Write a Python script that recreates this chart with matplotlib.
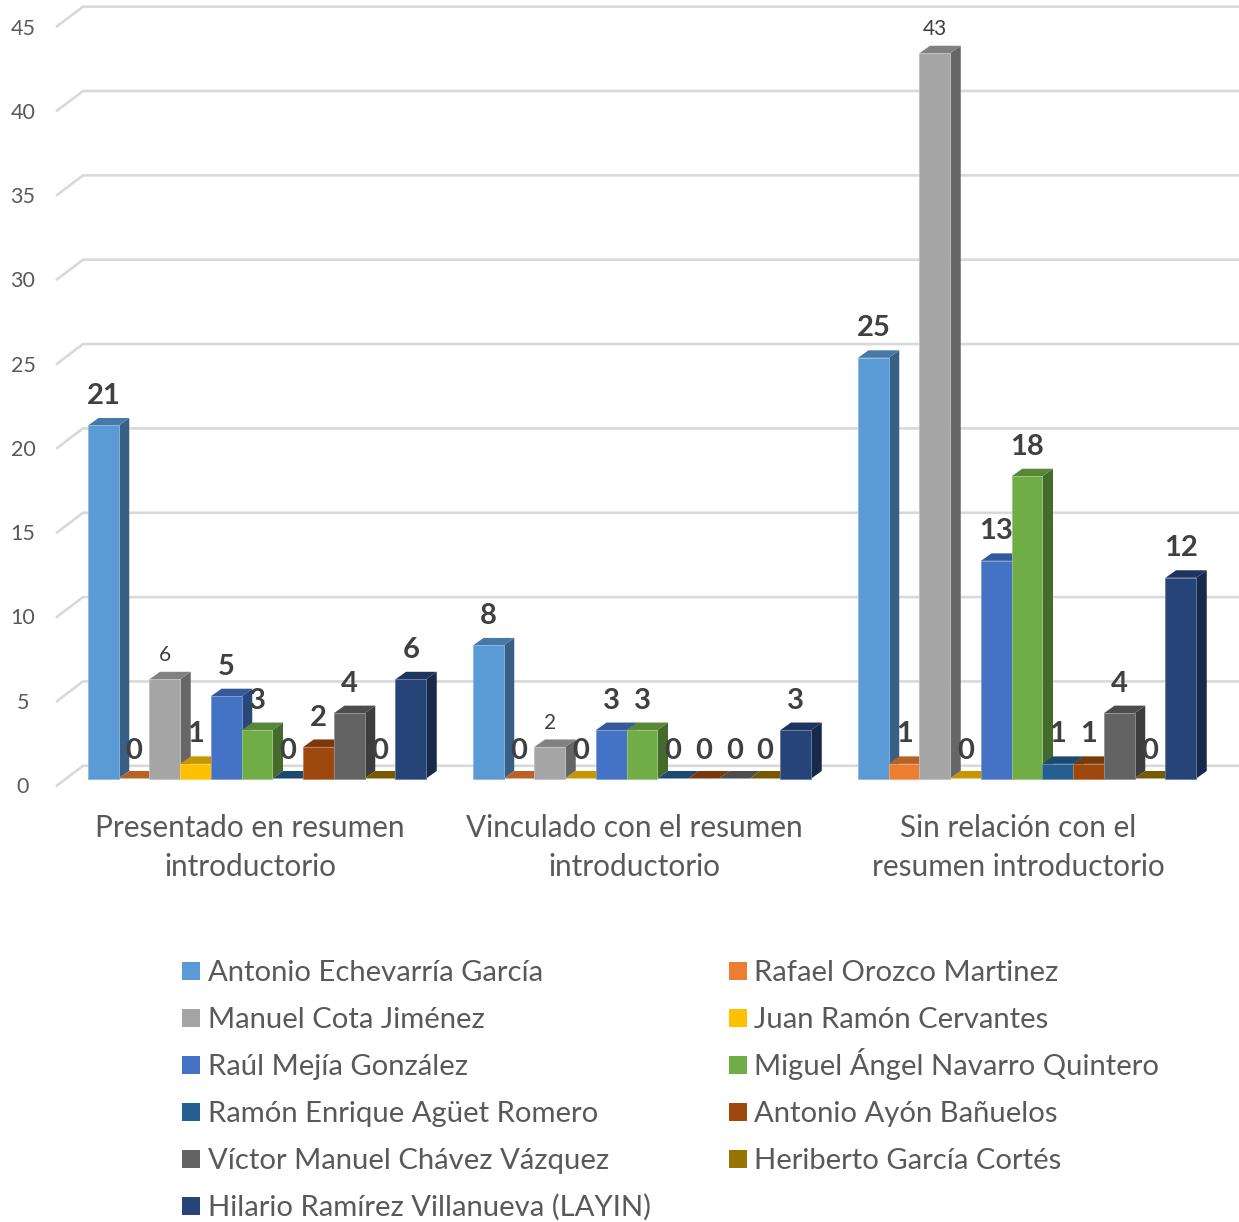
import matplotlib
matplotlib.use('Agg')
import matplotlib.pyplot as plt
from matplotlib.colors import to_rgb
from matplotlib.patches import Polygon, Rectangle

plt.rcParams['font.family'] = ['Lato', 'DejaVu Sans']

categories = ['Presentado en resumen\nintroductorio',
              'Vinculado con el resumen\nintroductorio',
              'Sin relación con el\nresumen introductorio']

names = ['Antonio Echevarría García', 'Rafael Orozco Martinez',
         'Manuel Cota Jiménez', 'Juan Ramón Cervantes',
         'Raúl Mejía González', 'Miguel Ángel Navarro Quintero',
         'Ramón Enrique Agüet Romero', 'Antonio Ayón Bañuelos',
         'Víctor Manuel Chávez Vázquez', 'Heriberto García Cortés',
         'Hilario Ramírez Villanueva (LAYIN)']

colors = ['#5B9BD5', '#ED7D31', '#A5A5A5', '#FFC000', '#4472C4', '#70AD47',
          '#255E91', '#9E480E', '#636363', '#997300', '#264478']

antonio = [21, 8, 25]
rafael = [0, 0, 1]
manuel = [6, 2, 43]
juan = [1, 0, 0]
raul = [5, 3, 13]
miguel = [3, 3, 18]
ramon = [0, 0, 1]
ayon = [2, 0, 1]
victor = [4, 0, 4]
heriberto = [0, 0, 0]
hilario = [6, 3, 12]
series = [antonio, rafael, manuel, juan, raul, miguel, ramon, ayon, victor,
          heriberto, hilario]

# this series has thin non bold labels in the original
thin_labels = [2]

W, H = 1239, 1222
PX_GROUP = 385.0     # pixels per group
PX_UNIT = 16.92      # pixels per value unit
X0, Y0 = 88.0, 780.8  # pixel of first bar, value 0

fig = plt.figure(figsize=(W / 100, H / 100), dpi=100)
ax = fig.add_axes([0, 0, 1, 1])
ax.set_xlim(-X0 / PX_GROUP, (W - X0) / PX_GROUP)
ax.set_ylim((Y0 - H) / PX_UNIT, Y0 / PX_UNIT)
ax.axis('off')


def xpx(p):
    return (p - X0) / PX_GROUP


def ypx(p):
    return (Y0 - p) / PX_UNIT


def shade(c, f):
    r, g, b = to_rgb(c)
    return (r * f, g * f, b * f)


def tint(c, f):
    r, g, b = to_rgb(c)
    return (r + (1 - r) * f, g + (1 - g) * f, b + (1 - b) * f)


bar_w = 30.75 / PX_GROUP
dx = 10.5 / PX_GROUP
dy = 7.5 / PX_UNIT
base = ypx(778.5)    # bars stand a little above value 0 in the original

# gridlines with the small slanted part on the left wall
for v in range(0, 50, 5):
    yb = ypx(765.8 - 16.87 * v)
    yf = ypx(785.5 - 16.87 * v)
    ax.plot([xpx(57), xpx(83), xpx(1239)], [yf, yb, yb], color='#D9D9D9', lw=1.9, zorder=1,
            solid_joinstyle='miter')
    ax.text(xpx(23), ypx(787.0 - 16.85 * v), str(v), color='#595959', fontsize=15.5, ha='center', va='center')

z = 2
for g in range(len(categories)):
    for s, vals in enumerate(series):
        v = vals[g]
        top = max(v, base)
        c = colors[s]
        x = g + s * bar_w
        edge = tint(c, 0.3)
        if v > 0:
            ax.add_patch(Polygon([(x + bar_w, base), (x + bar_w + dx, base + dy), (x + bar_w + dx, top + dy), (x + bar_w, top)],
                                 facecolor=shade(c, 0.62), edgecolor='none', zorder=z))
        ax.add_patch(Polygon([(x, top), (x + dx, top + dy), (x + bar_w + dx, top + dy), (x + bar_w, top)],
                             facecolor=shade(c, 0.78), edgecolor='none', zorder=z))
        if v > 0:
            ax.bar(x, v - base, bottom=base, width=bar_w, align='edge', color=c, edgecolor=edge, linewidth=0.6, zorder=z)
        z += 1

for g in range(len(categories)):
    for s, vals in enumerate(series):
        v = vals[g]
        xc = g + (s + 0.5) * bar_w
        if s in thin_labels:
            ax.text(xc, v + 1.42, str(v), ha='center', va='center', fontsize=15, color='#404040', zorder=100)
        else:
            ax.text(xc, v + 1.74, str(v), ha='center', va='center', fontsize=21, fontweight='bold',
                    color='#404040', zorder=100)

cat_px = [250, 634, 1018]
for px, cat in zip(cat_px, categories):
    ax.text(xpx(px), ypx(847.5), cat, ha='center', va='center', fontsize=21.4, color='#595959', linespacing=1.5)

# legend is written row by row, two columns
for i, name in enumerate(names):
    row = i // 2
    col = i % 2
    sx = [182, 729][col]
    ty = 971 + 47 * row
    ax.add_patch(Rectangle((xpx(sx), ypx(ty + 9)), 18 / PX_GROUP, 18 / PX_UNIT, facecolor=colors[i], edgecolor='none'))
    ax.text(xpx(sx + 26 - col), ypx(ty + 10), name, ha='left', va='baseline', fontsize=21.1, color='#595959')

fig.savefig('out.png', dpi=100)
